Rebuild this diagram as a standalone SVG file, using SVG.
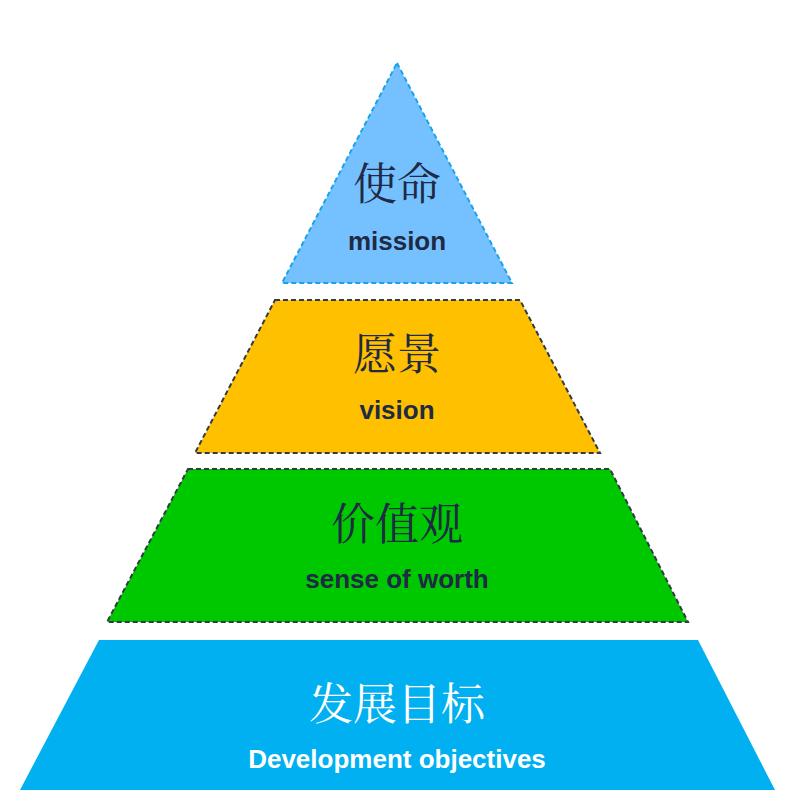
<svg xmlns="http://www.w3.org/2000/svg" width="800" height="800" viewBox="0 0 800 800">
<style>
.cn{font-family:"Noto Serif CJK SC","Noto Sans CJK SC",serif;font-size:44px;text-anchor:middle}
.en{font-family:"Liberation Sans","Noto Sans",sans-serif;font-weight:bold;font-size:26px;text-anchor:middle}
.dk{fill:#1f2a44}
.wt{fill:#ffffff}
.dash{stroke-width:2;stroke-dasharray:5,3}
</style>
<rect width="800" height="800" fill="#ffffff"/>
<g id="mission">
<polygon points="397,63 512,283 282,283" fill="#75c1ff" stroke="#1aa3e8" class="dash"/>
<text x="397" y="200" class="cn dk">使命</text>
<text x="397" y="250" class="en dk">mission</text>
</g>
<g id="vision">
<polygon points="275,300 520,300 600,453 195,453" fill="#ffc000" stroke="#333a48" class="dash"/>
<text x="397" y="370" class="cn dk">愿景</text>
<text x="397" y="419" class="en dk">vision</text>
</g>
<g id="worth">
<polygon points="188,469 610,469 688,622 107,622" fill="#00c800" stroke="#333a48" class="dash"/>
<text x="397" y="540" class="cn dk">价值观</text>
<text x="397" y="588" class="en dk">sense of worth</text>
</g>
<g id="objectives">
<polygon points="99,640 698,640 775,790 20,790" fill="#00b0f0"/>
<text x="397" y="720" class="cn wt">发展目标</text>
<text x="397" y="768" class="en wt">Development objectives</text>
</g>
<g id="connectors"/>
</svg>
